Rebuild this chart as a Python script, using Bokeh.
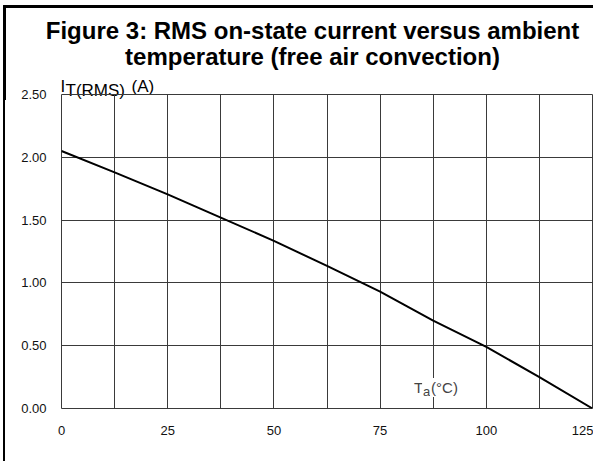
from bokeh.plotting import figure
from bokeh.layouts import column, row
from bokeh.models import Range1d, FixedTicker, Label, NumeralTickFormatter, Spacer
from bokeh.embed import file_html
from bokeh.resources import INLINE

# ---- data ----
temp_c = [0, 12.5, 25, 37.5, 50, 62.5, 75, 87.5, 100, 112.5, 125]
current_a = [2.05, 1.88, 1.705, 1.52, 1.335, 1.135, 0.93, 0.70, 0.49, 0.25, 0.0]
x_tick_values = [0, 25, 50, 75, 100, 125]
x_grid_values = [0, 12.5, 25, 37.5, 50, 62.5, 75, 87.5, 100, 112.5, 125]
y_tick_values = [0.0, 0.5, 1.0, 1.5, 2.0, 2.5]
title_lines = ["Figure 3: RMS on-state current versus ambient",
               "temperature (free air convection)"]

FONT = "Liberation Sans"
GRID = "#3a3a3a"
W, H = 593, 461
TOP_H = 100     # header figure height (title + y label)
MAIN_TOP = 85   # page row where the (transparent) chart canvas starts
FRAME_TOP = 94
FRAME_BOTTOM = 408
EDGE_X = 3      # left frame edge position
EDGE_W = 2

# ---------- header: title, y-axis label, frame edges (pixel space) ----------
top = figure(width=W, height=TOP_H, output_backend="svg", toolbar_location=None,
             title_location=None,
             x_range=Range1d(0, W), y_range=Range1d(TOP_H, 0),
             x_axis_location=None, y_axis_location=None,
             min_border=0, min_border_left=0, min_border_right=0,
             min_border_top=0, min_border_bottom=0)
top.outline_line_color = None
top.grid.visible = False
top.background_fill_color = "white"
top.border_fill_color = "white"
top.quad(left=[EDGE_X], right=[W], top=[5], bottom=[7], color="black")
top.quad(left=[EDGE_X], right=[EDGE_X + EDGE_W], top=[5], bottom=[TOP_H], color="black")

for txt, base in zip(title_lines, [30, 56]):
    top.add_layout(Label(x=312, y=base, text=txt, text_align="center",
                         text_baseline="alphabetic", text_font=FONT,
                         text_font_style="bold", text_font_size="24px",
                         text_color="black"))
top.add_layout(Label(x=60, y=86, text="I", text_baseline="alphabetic",
                     text_font=FONT, text_font_size="17px", text_color="black"))
top.add_layout(Label(x=65, y=90, text="T(RMS)", text_baseline="alphabetic",
                     text_font=FONT, text_font_size="17px", text_color="black"))
top.add_layout(Label(x=131, y=86, text="(A)", text_baseline="alphabetic",
                     text_font=FONT, text_font_size="17px", text_color="black"))

# ---------- left frame edge below the header ----------
edge = Spacer(width=EDGE_W, height=H - MAIN_TOP, margin=(0, 0, 0, EDGE_X),
              styles={"background-color": "black"})

# ---------- main chart (transparent, overlapping the header's lower part) ----------
MAIN_W = W - EDGE_X - EDGE_W
p = figure(width=MAIN_W, height=H - MAIN_TOP, output_backend="svg", toolbar_location=None,
           title_location=None,
           x_range=Range1d(0, 125), y_range=Range1d(0, 2.5),
           min_border_left=61 - EDGE_X - EDGE_W, min_border_right=1,
           min_border_top=FRAME_TOP - MAIN_TOP, min_border_bottom=H - FRAME_BOTTOM)
p.background_fill_alpha = 0
p.border_fill_alpha = 0
p.outline_line_color = GRID
p.outline_line_width = 1

p.xaxis.ticker = FixedTicker(ticks=x_tick_values)
p.yaxis.ticker = FixedTicker(ticks=y_tick_values)
p.yaxis.formatter = NumeralTickFormatter(format="0.00")
p.xgrid.ticker = FixedTicker(ticks=x_grid_values)
p.ygrid.ticker = FixedTicker(ticks=y_tick_values)
for g in (p.xgrid, p.ygrid):
    g.grid_line_color = GRID
    g.grid_line_width = 1
for ax in (p.xaxis, p.yaxis):
    ax.axis_line_color = None
    ax.major_tick_line_color = None
    ax.minor_tick_line_color = None
    ax.major_tick_out = 0
    ax.major_tick_in = 0
    ax.major_label_text_font = FONT
    ax.major_label_text_font_size = "13px"
    ax.major_label_text_color = "#111111"
p.xaxis.major_label_standoff = 17
p.yaxis.major_label_standoff = 15

p.line(temp_c, current_a, line_color="black", line_width=2)

# x axis label T_a(°C)
p.add_layout(Label(x=75, y=0, x_offset=33, y_offset=21, text="T",
                   text_baseline="alphabetic", text_font=FONT, text_font_size="15px",
                   background_fill_color="white", padding=1))
p.add_layout(Label(x=75, y=0, x_offset=42, y_offset=17, text="a",
                   text_baseline="alphabetic", text_font=FONT, text_font_size="13px",
                   background_fill_color="white", padding=1))
p.add_layout(Label(x=75, y=0, x_offset=50, y_offset=21, text="(°C)",
                   text_baseline="alphabetic", text_font=FONT, text_font_size="15px",
                   background_fill_color="white", padding=1))

chart_row = row(edge, p, spacing=0, margin=(MAIN_TOP - TOP_H, 0, 0, 0))
layout = column(top, chart_row, spacing=0)
open("out.html", "w").write(file_html(layout, INLINE))
